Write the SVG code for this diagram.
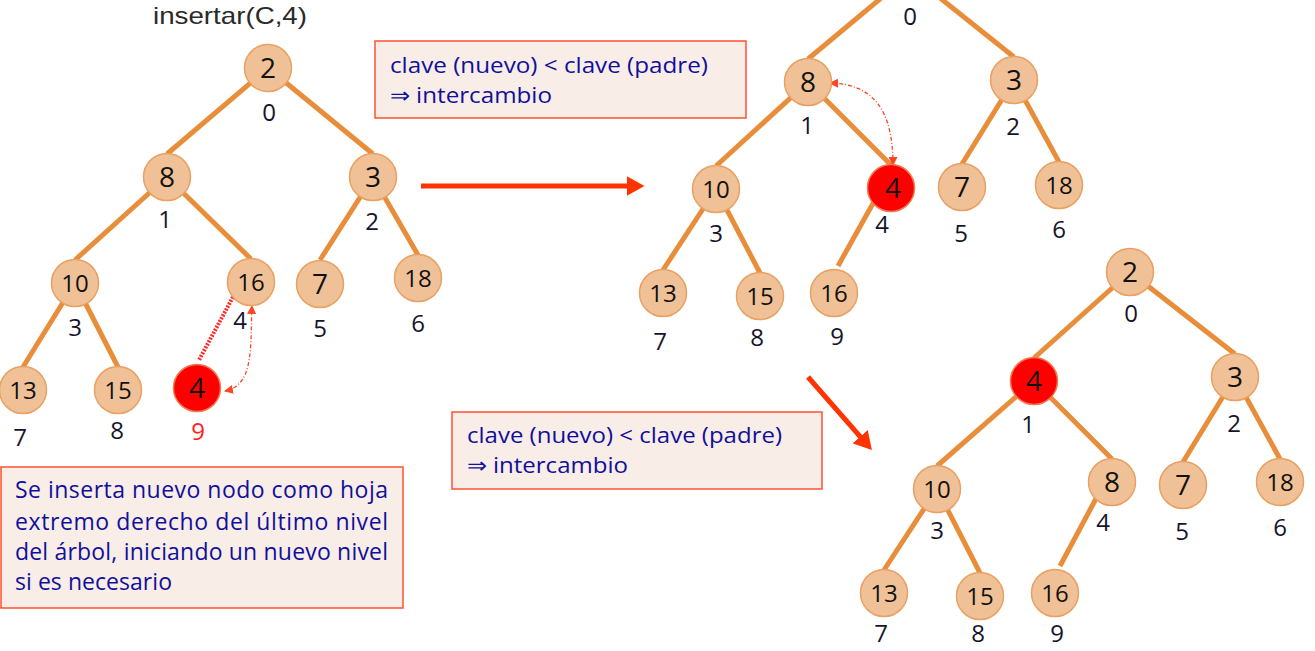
<svg xmlns="http://www.w3.org/2000/svg" width="1315" height="651" viewBox="0 0 1315 651">
<defs>
<style>
.edge{stroke:#E88E3A;stroke-width:5;fill:none;stroke-linecap:butt}
.nd{fill:#F0C196;stroke:#E9A062;stroke-width:1.5}
.hot{fill:#FF0000;stroke:#F07A50;stroke-width:1.5}
.v1{font-family:"Open Sans","Liberation Sans",sans-serif;font-size:28px;fill:#111;text-anchor:middle}
.v2{font-family:"Open Sans","Liberation Sans",sans-serif;font-size:24px;fill:#111;text-anchor:middle}
.ix{font-family:"Open Sans","Liberation Sans",sans-serif;font-size:24px;fill:#15152a;text-anchor:middle}
.box{fill:#F9EDE8;stroke:#FF5030;stroke-width:1.5}
.bt{font-family:"Open Sans","Liberation Sans",sans-serif;font-size:22px;fill:#10109A}
.bt3{font-family:"Open Sans","Liberation Sans",sans-serif;font-size:23px;fill:#10109A}
.big{stroke:#FF3300;stroke-width:5;fill:none}
.swap{stroke:#FF4422;stroke-width:1.3;fill:none;stroke-dasharray:4 2 1 2}
</style>
<marker id="bigHead" markerUnits="userSpaceOnUse" markerWidth="18" markerHeight="20" viewBox="0 0 16 18" refX="3" refY="9" orient="auto">
<path d="M0,0 L16,9 L0,18 z" fill="#FF3300"/>
</marker>
<marker id="smallHead" markerUnits="userSpaceOnUse" markerWidth="9" markerHeight="9" viewBox="0 0 9 9" refX="8" refY="4.5" orient="auto-start-reverse">
<path d="M0,0 L9,4.5 L0,9 z" fill="#FF4422"/>
</marker>
</defs>
<rect x="0" y="0" width="1315" height="651" fill="#FFFFFF"/>

<text x="153" y="24" font-family="Liberation Sans, Arial, sans-serif" font-size="24" fill="#2a2a2a" textLength="154" lengthAdjust="spacingAndGlyphs">insertar(C,4)</text>

<g id="connectors">
<!-- tree 1 -->
<path class="edge" d="M268 68 L167 154"/>
<path class="edge" d="M268 68 L373 154"/>
<path class="edge" d="M167 177 L75 260"/>
<path class="edge" d="M167 177 L251 259"/>
<path class="edge" d="M373 177 L320 260"/>
<path class="edge" d="M373 177 L418 255"/>
<path class="edge" d="M75 283 L23 367"/>
<path class="edge" d="M75 283 L118 367"/>
<path d="M233 297 L199 360" stroke="#FF2A2A" stroke-width="4" stroke-dasharray="2 1.3" fill="none"/>
<path class="swap" d="M225 391 C255 385, 250 345, 252 306" marker-start="url(#smallHead)" marker-end="url(#smallHead)"/>
<!-- tree 2 -->
<path class="edge" d="M910 -26 L808 59"/>
<path class="edge" d="M910 -26 L1014 57"/>
<path class="edge" d="M808 82 L716 166"/>
<path class="edge" d="M808 82 L891 165"/>
<path class="edge" d="M1014 80 L962 164"/>
<path class="edge" d="M1014 80 L1059 162"/>
<path class="edge" d="M716 189 L663 270"/>
<path class="edge" d="M716 189 L760 273"/>
<path class="edge" d="M876 198 L838 266"/>
<path class="swap" d="M830 83 C875 84, 893 112, 893 165" marker-start="url(#smallHead)" marker-end="url(#smallHead)"/>
<!-- tree 3 -->
<path class="edge" d="M1130 272 L1034 358"/>
<path class="edge" d="M1130 272 L1235 354"/>
<path class="edge" d="M1034 381 L937 466"/>
<path class="edge" d="M1034 381 L1112 459"/>
<path class="edge" d="M1235 377 L1183 462"/>
<path class="edge" d="M1235 377 L1280 459"/>
<path class="edge" d="M937 489 L884 570"/>
<path class="edge" d="M937 489 L980 573"/>
<path class="edge" d="M1099 493 L1060 566"/>
<!-- step arrows -->
<path class="big" d="M421 186 L630 186" marker-end="url(#bigHead)"/>
<path class="big" d="M808 377 L862.4 439.2" marker-end="url(#bigHead)"/>
</g>

<!-- Tree 1 nodes -->
<g id="t1-n0"><circle class="nd" cx="268" cy="68" r="23.5"/><text class="v1" x="268" y="78">2</text><text class="ix" x="269" y="121">0</text></g>
<g id="t1-n1"><circle class="nd" cx="167" cy="177" r="23.5"/><text class="v1" x="167" y="187">8</text><text class="ix" x="165" y="228">1</text></g>
<g id="t1-n2"><circle class="nd" cx="373" cy="177" r="23.5"/><text class="v1" x="373" y="187">3</text><text class="ix" x="372" y="230">2</text></g>
<g id="t1-n3"><circle class="nd" cx="75" cy="283" r="23.5"/><text class="v2" x="75" y="291.5">10</text><text class="ix" x="75" y="336">3</text></g>
<g id="t1-n4"><circle class="nd" cx="251" cy="282" r="23.5"/><text class="v2" x="251" y="290.5">16</text><text class="ix" x="240" y="329">4</text></g>
<g id="t1-n5"><circle class="nd" cx="320" cy="284" r="23.5"/><text class="v1" x="320" y="294">7</text><text class="ix" x="320" y="337">5</text></g>
<g id="t1-n6"><circle class="nd" cx="418" cy="278" r="23.5"/><text class="v2" x="418" y="286.5">18</text><text class="ix" x="418" y="332">6</text></g>
<g id="t1-n7"><circle class="nd" cx="23" cy="390" r="23.5"/><text class="v2" x="23" y="398.5">13</text><text class="ix" x="20" y="446">7</text></g>
<g id="t1-n8"><circle class="nd" cx="118" cy="390" r="23.5"/><text class="v2" x="118" y="398.5">15</text><text class="ix" x="117" y="439">8</text></g>
<g id="t1-n9"><circle class="hot" cx="197" cy="388" r="23.5"/><text class="v1" x="197" y="398">4</text><text class="ix" x="198" y="440" style="fill:#FF2020">9</text></g>

<!-- Tree 2 nodes -->
<g id="t2-n0"><circle class="nd" cx="910" cy="-28" r="23.5"/><text class="ix" x="910" y="25">0</text></g>
<g id="t2-n1"><circle class="nd" cx="808" cy="82" r="23.5"/><text class="v1" x="808" y="92">8</text><text class="ix" x="807" y="134">1</text></g>
<g id="t2-n2"><circle class="nd" cx="1014" cy="80" r="23.5"/><text class="v1" x="1014" y="90">3</text><text class="ix" x="1013" y="135">2</text></g>
<g id="t2-n3"><circle class="nd" cx="716" cy="189" r="23.5"/><text class="v2" x="716" y="197.5">10</text><text class="ix" x="716" y="242">3</text></g>
<g id="t2-n4"><circle class="hot" cx="891" cy="188" r="23.5"/><text class="v1" x="893" y="198">4</text><text class="ix" x="882" y="233">4</text></g>
<g id="t2-n5"><circle class="nd" cx="962" cy="187" r="23.5"/><text class="v1" x="962" y="197">7</text><text class="ix" x="961" y="242">5</text></g>
<g id="t2-n6"><circle class="nd" cx="1059" cy="185" r="23.5"/><text class="v2" x="1059" y="193.5">18</text><text class="ix" x="1059" y="238">6</text></g>
<g id="t2-n7"><circle class="nd" cx="663" cy="293" r="23.5"/><text class="v2" x="663" y="301.5">13</text><text class="ix" x="660" y="350">7</text></g>
<g id="t2-n8"><circle class="nd" cx="760" cy="296" r="23.5"/><text class="v2" x="760" y="304.5">15</text><text class="ix" x="757" y="346">8</text></g>
<g id="t2-n9"><circle class="nd" cx="834" cy="293" r="23.5"/><text class="v2" x="834" y="301.5">16</text><text class="ix" x="837" y="345">9</text></g>

<!-- Tree 3 nodes -->
<g id="t3-n0"><circle class="nd" cx="1130" cy="272" r="23.5"/><text class="v1" x="1130" y="282">2</text><text class="ix" x="1131" y="322">0</text></g>
<g id="t3-n1"><circle class="hot" cx="1034" cy="381" r="23.5"/><text class="v1" x="1034" y="391">4</text><text class="ix" x="1028" y="433">1</text></g>
<g id="t3-n2"><circle class="nd" cx="1235" cy="377" r="23.5"/><text class="v1" x="1235" y="387">3</text><text class="ix" x="1234" y="432">2</text></g>
<g id="t3-n3"><circle class="nd" cx="937" cy="489" r="23.5"/><text class="v2" x="937" y="497.5">10</text><text class="ix" x="937" y="539">3</text></g>
<g id="t3-n4"><circle class="nd" cx="1112" cy="482" r="23.5"/><text class="v1" x="1112" y="492">8</text><text class="ix" x="1103" y="531">4</text></g>
<g id="t3-n5"><circle class="nd" cx="1183" cy="485" r="23.5"/><text class="v1" x="1183" y="495">7</text><text class="ix" x="1182" y="540">5</text></g>
<g id="t3-n6"><circle class="nd" cx="1280" cy="482" r="23.5"/><text class="v2" x="1280" y="490.5">18</text><text class="ix" x="1280" y="536">6</text></g>
<g id="t3-n7"><circle class="nd" cx="884" cy="593" r="23.5"/><text class="v2" x="884" y="601.5">13</text><text class="ix" x="881" y="642">7</text></g>
<g id="t3-n8"><circle class="nd" cx="980" cy="596" r="23.5"/><text class="v2" x="980" y="604.5">15</text><text class="ix" x="978" y="642">8</text></g>
<g id="t3-n9"><circle class="nd" cx="1055" cy="593" r="23.5"/><text class="v2" x="1055" y="601.5">16</text><text class="ix" x="1057" y="642">9</text></g>

<!-- text boxes -->
<g id="box-top">
<rect class="box" x="375" y="41" width="371" height="77"/>
<text class="bt" x="390" y="73" textLength="318" lengthAdjust="spacingAndGlyphs">clave (nuevo) &lt; clave (padre)</text>
<text class="bt" x="390" y="103" textLength="162" lengthAdjust="spacingAndGlyphs">⇒ intercambio</text>
</g>
<g id="box-mid">
<rect class="box" x="452" y="412" width="370" height="77"/>
<text class="bt" x="467" y="443" textLength="315" lengthAdjust="spacingAndGlyphs">clave (nuevo) &lt; clave (padre)</text>
<text class="bt" x="467" y="473" textLength="161" lengthAdjust="spacingAndGlyphs">⇒ intercambio</text>
</g>
<g id="box-note">
<rect class="box" x="1" y="467" width="402" height="141"/>
<text class="bt3" x="15" y="498" textLength="373" lengthAdjust="spacing">Se inserta nuevo nodo como hoja</text>
<text class="bt3" x="15" y="530" textLength="373" lengthAdjust="spacing">extremo derecho del último nivel</text>
<text class="bt3" x="15" y="560" textLength="373" lengthAdjust="spacing">del árbol, iniciando un nuevo nivel</text>
<text class="bt3" x="15" y="590" textLength="157" lengthAdjust="spacing">si es necesario</text>
</g>
</svg>
